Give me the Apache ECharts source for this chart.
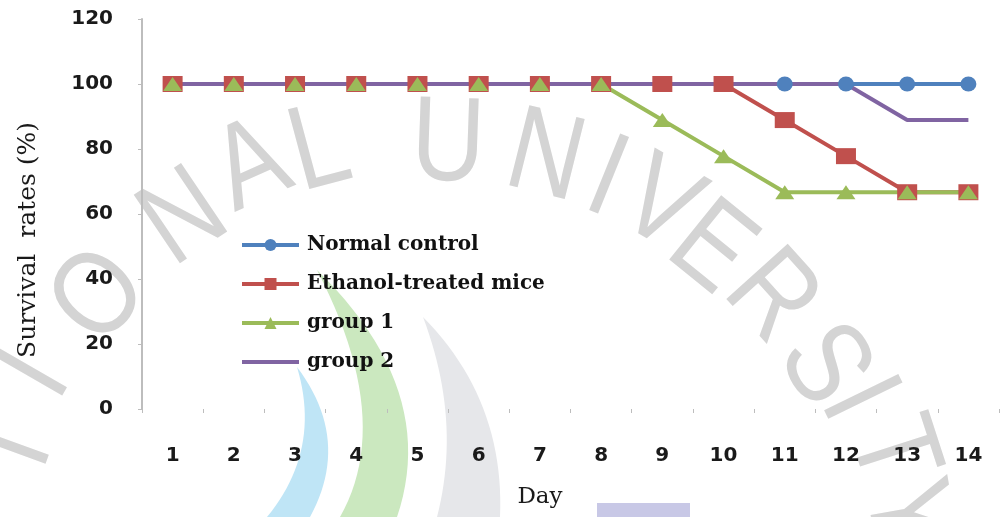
<!DOCTYPE html>
<html>
<head>
<meta charset="utf-8">
<title>Survival rates</title>
<script src="https://cdn.jsdelivr.net/npm/echarts@6/dist/echarts.min.js"></script>
<style>
  html, body { margin: 0; padding: 0; background: #ffffff; }
  #chart { width: 1003px; height: 517px; }
</style>
</head>
<body>
<div id="chart"></div>
<script>
// Days of observation
const days = ['1', '2', '3', '4', '5', '6', '7', '8', '9', '10', '11', '12', '13', '14'];

// Survival rates (%) per group
const normalControl  = [100, 100, 100, 100, 100, 100, 100, 100, 100, 100, 100, 100, 100, 100];
const ethanolTreated = [100, 100, 100, 100, 100, 100, 100, 100, 100, 100, 88.9, 77.8, 66.7, 66.7];
const group1         = [100, 100, 100, 100, 100, 100, 100, 100, 88.9, 77.8, 66.7, 66.7, 66.7, 66.7];
const group2         = [100, 100, 100, 100, 100, 100, 100, 100, 100, 100, 100, 100, 88.9, 88.9];

// Value axis range
const yMin = 0;
const yMax = 120;
const yStep = 20;

const seriesNames = ['Normal control', 'Ethanol-treated mice', 'group 1', 'group 2'];
const colors = ['#4f81bd', '#c0504d', '#9bbb59', '#8064a2'];

// Background seal: lettering along an arc plus coloured bands
// [letter, x, y, clockwise tilt in degrees]
const sealLetters = [
  ['T', 16, 448, -70], ['I', 36, 375, -60], ['O', 101, 298, -49], ['N', 185, 220, -34],
  ['A', 252, 168, -24], ['L', 320, 152, -15],
  ['U', 448, 147, 2], ['N', 545, 160, 14], ['I', 606, 181, 22], ['V', 659, 207, 30],
  ['E', 710, 250, 39], ['R', 770, 298, 48], ['S', 822, 366, 58], ['I', 856, 400, 64],
  ['T', 890, 452, 72], ['Y', 904, 514, 80]
];

// Each band: outer curve (start, control, end) then inner curve back to start
const sealBands = [
  { outer: [[297, 367], [352, 440], [310, 517]], inner: [[267, 517], [322, 450], [297, 367]], fill: '#bfe5f6' },
  { outer: [[317, 270], [440, 390], [397, 517]], inner: [[340, 517], [395, 420], [317, 270]], fill: '#cbe8bf' },
  { outer: [[423, 317], [505, 400], [500, 517]], inner: [[437, 517], [462, 420], [423, 317]], fill: '#e6e7ea' }
];

function quadPoints(c, n) {
  const pts = [];
  for (let k = 0; k <= n; k++) {
    const t = k / n, u = 1 - t;
    pts.push([
      u * u * c[0][0] + 2 * u * t * c[1][0] + t * t * c[2][0],
      u * u * c[0][1] + 2 * u * t * c[1][1] + t * t * c[2][1]
    ]);
  }
  return pts;
}

const graphics = [];
sealBands.forEach(function (b) {
  const pts = quadPoints(b.outer, 24).concat(quadPoints(b.inner, 24));
  graphics.push({ type: 'polygon', z: -10, silent: true, shape: { points: pts }, style: { fill: b.fill } });
});
graphics.push({
  type: 'rect', z: -10, silent: true,
  shape: { x: 597, y: 503, width: 93, height: 14 },
  style: { fill: '#c8c8e6' }
});
sealLetters.forEach(function (l) {
  graphics.push({
    type: 'text', z: -9, silent: true,
    x: l[1], y: l[2], rotation: -l[3] * Math.PI / 180, scaleX: 0.85,
    style: {
      text: l[0], fill: '#d4d4d4',
      font: 'normal 120px "Liberation Sans", Arial, sans-serif',
      align: 'center', verticalAlign: 'middle'
    }
  });
});
// Axis titles
graphics.push({
  type: 'text', z: 20, x: 28, y: 240, rotation: Math.PI / 2,
  style: {
    text: 'Survival  rates (%)', fill: '#1a1a1a',
    font: 'normal 25px "DejaVu Serif", serif',
    align: 'center', verticalAlign: 'middle'
  }
});
graphics.push({
  type: 'text', z: 20, x: 540, y: 497,
  style: {
    text: 'Day', fill: '#1a1a1a',
    font: 'normal 23px "DejaVu Serif", serif',
    align: 'center', verticalAlign: 'middle'
  }
});

function lineSeries(i, data, symbol, size) {
  return {
    name: seriesNames[i],
    type: 'line',
    data: data,
    symbol: symbol,
    symbolSize: size,
    showSymbol: symbol !== 'none',
    lineStyle: { color: colors[i], width: 4 },
    itemStyle: { color: colors[i], borderWidth: 0 },
    emphasis: { disabled: true },
    animation: false
  };
}

const legendData = seriesNames.map(function (name, i) {
  // group 2 is drawn as a plain line without markers
  return i === 3 ? { name: name, itemStyle: { opacity: 0 } } : { name: name };
});

const chart = echarts.init(document.getElementById('chart'), null, { renderer: 'canvas' });
chart.setOption({
  backgroundColor: '#ffffff',
  animation: false,
  color: colors,
  grid: { left: 142, right: 4, top: 19, bottom: 108, containLabel: false },
  legend: {
    orient: 'vertical',
    left: 240,
    top: 235,
    padding: 0,
    itemWidth: 57,
    itemHeight: 15,
    itemGap: 19,
    selectedMode: false,
    data: legendData,
    lineStyle: { width: 4 },
    textStyle: {
      fontFamily: '"DejaVu Serif", serif',
      fontWeight: 'bold',
      fontSize: 20,
      color: '#111111',
      padding: [0, 0, 0, 3]
    }
  },
  xAxis: {
    type: 'category',
    data: days,
    boundaryGap: true,
    axisLine: { show: false },
    axisTick: { show: true, length: 4, lineStyle: { color: '#bdbdbd', width: 1 } },
    axisLabel: {
      margin: 37,
      fontFamily: '"DejaVu Sans", Verdana, sans-serif',
      fontWeight: 'bold',
      fontSize: 20,
      color: '#1a1a1a'
    },
    splitLine: { show: false }
  },
  yAxis: {
    type: 'value',
    min: yMin,
    max: yMax,
    interval: yStep,
    axisLine: { show: true, lineStyle: { color: '#bdbdbd', width: 2 } },
    axisTick: { show: true, length: 4, lineStyle: { color: '#bdbdbd', width: 1 } },
    axisLabel: {
      margin: 29,
      fontFamily: '"DejaVu Sans", Verdana, sans-serif',
      fontWeight: 'bold',
      fontSize: 20,
      color: '#1a1a1a'
    },
    splitLine: { show: false }
  },
  graphic: graphics,
  series: [
    lineSeries(0, normalControl, 'circle', [16, 15]),
    lineSeries(1, ethanolTreated, 'rect', [20, 16]),
    lineSeries(2, group1, 'triangle', [19, 14]),
    lineSeries(3, group2, 'none', 0)
  ]
});
</script>
</body>
</html>
